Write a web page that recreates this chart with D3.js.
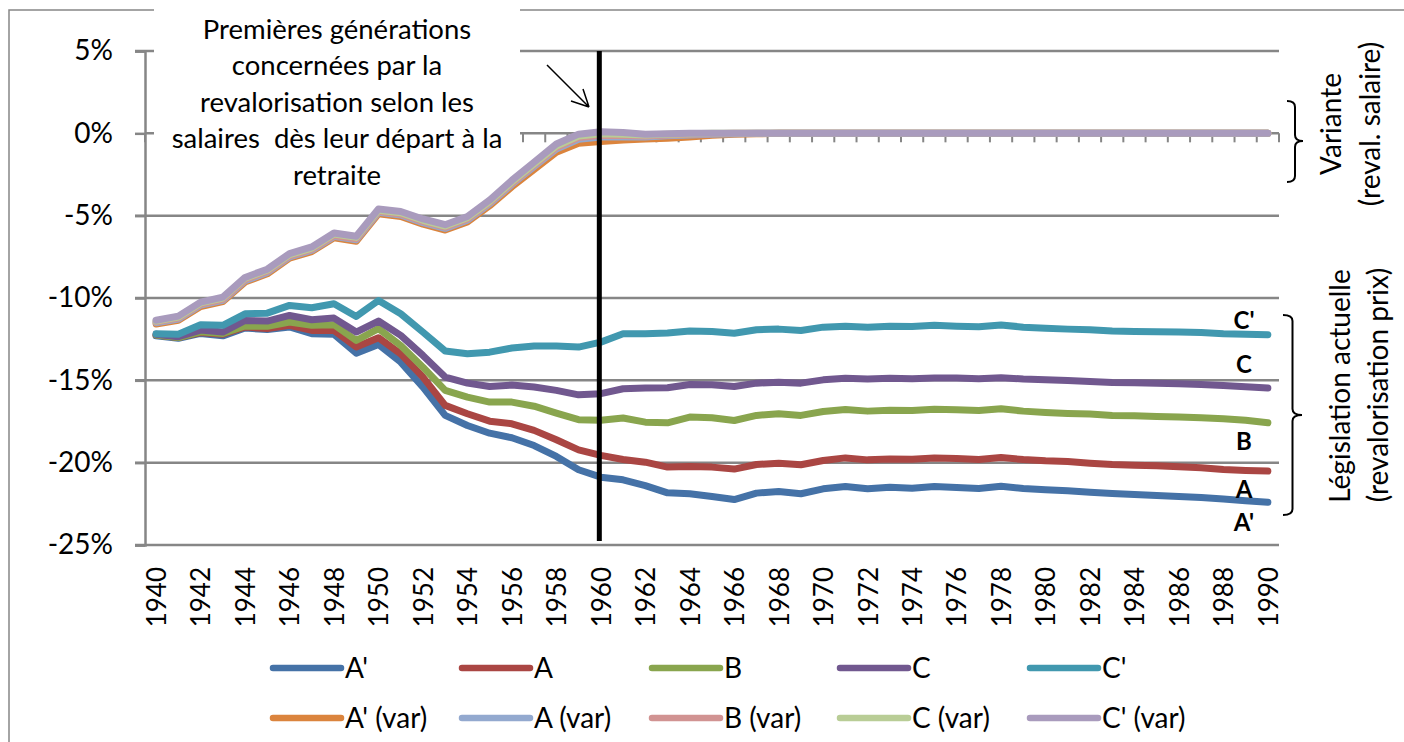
<!DOCTYPE html>
<html>
<head>
<meta charset="utf-8">
<script src="https://cdn.jsdelivr.net/npm/d3@7"></script>
<style>
  html, body { margin: 0; padding: 0; background: #fff; }
  svg { display: block; }
  text { font-family: Lato, "Open Sans", sans-serif; fill: #000; }
</style>
</head>
<body>
<svg id="chart" width="1404" height="742"></svg>
<script>
const years = [1940,1941,1942,1943,1944,1945,1946,1947,1948,1949,1950,1951,1952,1953,1954,1955,1956,1957,1958,1959,1960,1961,1962,1963,1964,1965,1966,1967,1968,1969,1970,1971,1972,1973,1974,1975,1976,1977,1978,1979,1980,1981,1982,1983,1984,1985,1986,1987,1988,1989,1990];
const yTicks = [5, 0, -5, -10, -15, -20, -25];
const yearLabels = [1940,1942,1944,1946,1948,1950,1952,1954,1956,1958,1960,1962,1964,1966,1968,1970,1972,1974,1976,1978,1980,1982,1984,1986,1988,1990];

const seriesNames = ["A'", "A", "B", "C", "C'", "A' (var)", "A (var)", "B (var)", "C (var)", "C' (var)"];
const seriesColors = ["#4572A7", "#AA4643", "#89A54E", "#71588F", "#4198AF", "#DB843D", "#93A9CF", "#D19392", "#B9CD96", "#A99BBD"];

const Aprime = [-12.3,-12.45,-12.15,-12.3,-11.82,-11.92,-11.76,-12.17,-12.2,-13.35,-12.82,-13.89,-15.41,-17.13,-17.74,-18.21,-18.49,-18.96,-19.62,-20.43,-20.88,-21.04,-21.39,-21.83,-21.89,-22.05,-22.24,-21.85,-21.75,-21.89,-21.59,-21.45,-21.59,-21.49,-21.55,-21.45,-21.51,-21.57,-21.43,-21.57,-21.65,-21.71,-21.79,-21.87,-21.93,-21.99,-22.05,-22.11,-22.21,-22.31,-22.4];
const A = [-12.25,-12.4,-12.1,-12.2,-11.76,-11.86,-11.66,-11.97,-11.97,-12.98,-12.41,-13.39,-14.8,-16.52,-17.03,-17.48,-17.64,-18.04,-18.61,-19.22,-19.56,-19.81,-19.97,-20.27,-20.23,-20.27,-20.39,-20.11,-20.03,-20.13,-19.87,-19.71,-19.83,-19.77,-19.79,-19.71,-19.75,-19.81,-19.69,-19.81,-19.89,-19.93,-20.03,-20.11,-20.15,-20.19,-20.25,-20.31,-20.41,-20.47,-20.51];
const B = [-12.25,-12.4,-12.05,-12.15,-11.7,-11.72,-11.46,-11.66,-11.62,-12.58,-11.86,-12.88,-14.2,-15.61,-16.02,-16.32,-16.32,-16.57,-16.99,-17.39,-17.42,-17.29,-17.54,-17.58,-17.23,-17.27,-17.44,-17.13,-17.03,-17.13,-16.89,-16.77,-16.87,-16.81,-16.83,-16.75,-16.79,-16.83,-16.73,-16.87,-16.95,-17.01,-17.05,-17.13,-17.15,-17.19,-17.23,-17.27,-17.33,-17.43,-17.58];
const C = [-12.2,-12.35,-11.95,-12.07,-11.36,-11.4,-11.06,-11.32,-11.22,-12.07,-11.4,-12.27,-13.49,-14.8,-15.17,-15.37,-15.29,-15.41,-15.61,-15.88,-15.81,-15.51,-15.47,-15.45,-15.25,-15.27,-15.37,-15.17,-15.11,-15.17,-14.97,-14.88,-14.92,-14.88,-14.9,-14.86,-14.86,-14.9,-14.84,-14.92,-14.97,-15.01,-15.07,-15.13,-15.15,-15.17,-15.21,-15.25,-15.31,-15.39,-15.47];
const Cprime = [-12.17,-12.2,-11.62,-11.66,-10.96,-10.92,-10.45,-10.59,-10.35,-11.12,-10.15,-10.96,-12.07,-13.22,-13.39,-13.29,-13.04,-12.92,-12.92,-12.98,-12.68,-12.17,-12.17,-12.13,-12.01,-12.03,-12.14,-11.93,-11.89,-11.97,-11.77,-11.71,-11.77,-11.71,-11.73,-11.66,-11.71,-11.75,-11.64,-11.77,-11.83,-11.89,-11.93,-12.01,-12.03,-12.05,-12.07,-12.09,-12.17,-12.2,-12.23];
const AprimeVar = [-11.58,-11.36,-10.52,-10.22,-9.03,-8.53,-7.58,-7.18,-6.34,-6.55,-4.88,-5.05,-5.52,-5.87,-5.38,-4.4,-3.25,-2.2,-1.15,-0.6,-0.5,-0.4,-0.35,-0.3,-0.22,-0.12,-0.06,-0.03,0,0,0,0,0,0,0,0,0,0,0,0,0,0,0,0,0,0,0,0,0,0,0];
const AVar = [-11.5,-11.28,-10.43,-10.14,-8.95,-8.45,-7.5,-7.1,-6.26,-6.47,-4.8,-4.96,-5.42,-5.77,-5.28,-4.28,-3.1,-2.02,-0.95,-0.36,-0.22,-0.2,-0.22,-0.15,-0.1,-0.05,-0.02,0,0,0,0,0,0,0,0,0,0,0,0,0,0,0,0,0,0,0,0,0,0,0,0];
const BVar = [-11.45,-11.22,-10.37,-10.08,-8.88,-8.38,-7.44,-7.04,-6.2,-6.4,-4.74,-4.9,-5.35,-5.7,-5.2,-4.2,-3.03,-1.93,-0.86,-0.26,-0.12,-0.13,-0.16,-0.1,-0.06,-0.03,0,0,0,0,0,0,0,0,0,0,0,0,0,0,0,0,0,0,0,0,0,0,0,0,0];
const CVar = [-11.4,-11.15,-10.3,-10.0,-8.8,-8.3,-7.37,-6.97,-6.12,-6.32,-4.67,-4.82,-5.28,-5.63,-5.13,-4.13,-2.95,-1.85,-0.77,-0.17,-0.02,-0.05,-0.1,-0.06,-0.03,0,0,0,0,0,0,0,0,0,0,0,0,0,0,0,0,0,0,0,0,0,0,0,0,0,0];
const CprimeVar = [-11.35,-11.1,-10.25,-9.95,-8.75,-8.25,-7.3,-6.9,-6.05,-6.25,-4.6,-4.75,-5.2,-5.55,-5.05,-4.05,-2.85,-1.75,-0.65,-0.05,0.1,0.05,-0.05,-0.02,0,0,0,0,0,0,0,0,0,0,0,0,0,0,0,0,0,0,0,0,0,0,0,0,0,0,0];

const seriesValues = [Aprime, A, B, C, Cprime, AprimeVar, AVar, BVar, CVar, CprimeVar];

const annotationLines = ["Premières générations", "concernées par la", "revalorisation selon les", "salaires  dès leur départ à la", "retraite"];
const endLabels = [["C'", -11.34], ["C", -14.0], ["B", -18.7], ["A", -21.6], ["A'", -23.6]];

const svg = d3.select("#chart");
const grid = "#868686";

// outer frame
svg.append("rect").attr("x", 9).attr("y", 10).attr("width", 1420).attr("height", 800)
  .attr("fill", "#fff").attr("stroke", grid).attr("stroke-width", 1.5);

const x = d3.scaleBand().domain(years).range([145, 1279]);
const bw = x.bandwidth();
const cx = d => x(d) + bw / 2;
const y = d3.scaleLinear().domain([-25, 5]).range([545, 51]);

// gridlines
svg.append("g").selectAll("line").data(yTicks.filter(d => d !== 0)).join("line")
  .attr("x1", 135).attr("x2", 1279).attr("y1", d => y(d)).attr("y2", d => y(d))
  .attr("stroke", grid).attr("stroke-width", 2.5);

// y axis
const yAxis = svg.append("g").attr("transform", "translate(145,0)")
  .call(d3.axisLeft(y).tickValues(yTicks).tickSize(10).tickPadding(22).tickFormat(d => d + "%"));
yAxis.select(".domain").attr("stroke", grid).attr("stroke-width", 2.5);
yAxis.selectAll(".tick line").attr("stroke", grid).attr("stroke-width", 2.5);
yAxis.selectAll("text").style("font-size", "28px").style("font-family", "Lato, sans-serif").attr("fill", "#000");

// category axis at 0%
const xAxis = svg.append("g").attr("transform", `translate(0,${y(0)})`);
xAxis.append("line").attr("x1", 145).attr("x2", 1279).attr("y1", 0).attr("y2", 0)
  .attr("stroke", grid).attr("stroke-width", 2.5);
xAxis.selectAll("line.tk").data(years.concat(["end"])).join("line").attr("class", "tk")
  .attr("x1", d => d === "end" ? 1279 : x(d)).attr("x2", d => d === "end" ? 1279 : x(d))
  .attr("y1", 0).attr("y2", 9).attr("stroke", grid).attr("stroke-width", 2);

// year labels at bottom
const xLab = svg.append("g").attr("transform", `translate(0,${y(-25)})`)
  .call(d3.axisBottom(d3.scalePoint().domain(yearLabels).range([cx(1940), cx(1990)])).tickSize(0).tickPadding(0));
xLab.select(".domain").remove();
xLab.selectAll("text").attr("transform", "rotate(-90)").attr("text-anchor", "end")
  .attr("x", -22).attr("y", 0).attr("dy", "0.36em")
  .style("font-size", "26px").style("font-family", "Lato, sans-serif").attr("fill", "#000");

// white annotation box
svg.append("rect").attr("x", 154).attr("y", 0).attr("width", 366).attr("height", 198).attr("fill", "#fff");

// series lines
const line = d3.line().x((v, i) => cx(years[i])).y(v => y(v));
svg.append("g").selectAll("path").data(seriesValues).join("path")
  .attr("d", d => line(d)).attr("fill", "none")
  .attr("stroke", (d, i) => seriesColors[i])
  .attr("stroke-width", 7).attr("stroke-linejoin", "round").attr("stroke-linecap", "round");

// vertical black line at 1960
svg.append("line").attr("x1", cx(1960) - 1.5).attr("x2", cx(1960) - 1.5)
  .attr("y1", y(5)).attr("y2", 541).attr("stroke", "#000").attr("stroke-width", 5);

// annotation text
const ann = svg.append("text").attr("text-anchor", "middle").style("font-size", "27.5px");
annotationLines.forEach((t, i) => {
  ann.append("tspan").attr("x", 337).attr("y", 39 + i * 36.4).attr("xml:space", "preserve").text(t);
});

// arrow
svg.append("path").attr("d", "M547,65 L589,107 M589,107 L571,101 M589,107 L583,89")
  .attr("stroke", "#000").attr("stroke-width", 1.5).attr("fill", "none");

// end labels
svg.append("g").selectAll("text").data(endLabels).join("text")
  .attr("x", 1244).attr("y", d => y(d[1])).attr("dy", "0.36em").attr("text-anchor", "middle")
  .style("font-size", "24px").style("font-weight", "bold").text(d => d[0]);

// braces
function brace(x0, top, bot, tip, w) {
  const mid = x0 + w / 2, r = 6;
  return `M${x0},${top} Q${mid},${top} ${mid},${top + r} L${mid},${tip - r} Q${mid},${tip} ${x0 + w},${tip}` +
         ` Q${mid},${tip} ${mid},${tip + r} L${mid},${bot - r} Q${mid},${bot} ${x0},${bot}`;
}
svg.append("path").attr("d", brace(1287, 101, 182, 141, 16)).attr("stroke", "#000").attr("stroke-width", 2).attr("fill", "none");
svg.append("path").attr("d", brace(1283, 315, 515, 415, 19)).attr("stroke", "#000").attr("stroke-width", 2).attr("fill", "none");

// right side rotated texts
function vtext(xc, yc, t) {
  svg.append("text").attr("transform", `translate(${xc},${yc}) rotate(-90)`).attr("text-anchor", "middle")
    .attr("dy", "0.36em").style("font-size", "28px").text(t);
}
vtext(1331, 124, "Variante");
vtext(1370, 124, "(reval. salaire)");
vtext(1340, 386, "Législation actuelle");
vtext(1378, 385, "(revalorisation prix)");

// legend
const legX = [273, 462, 652, 840, 1030];
const legY = [668, 718];
const leg = svg.append("g").selectAll("g").data(seriesNames).join("g")
  .attr("transform", (d, i) => `translate(${legX[i % 5]},${legY[Math.floor(i / 5)]})`);
leg.append("line").attr("x1", 0).attr("x2", 68).attr("y1", 0).attr("y2", 0)
  .attr("stroke", (d, i) => seriesColors[i]).attr("stroke-width", 6.5).attr("stroke-linecap", "round");
leg.append("text").attr("x", 72).attr("dy", "0.36em").style("font-size", "28px").text(d => d);
</script>
</body>
</html>
